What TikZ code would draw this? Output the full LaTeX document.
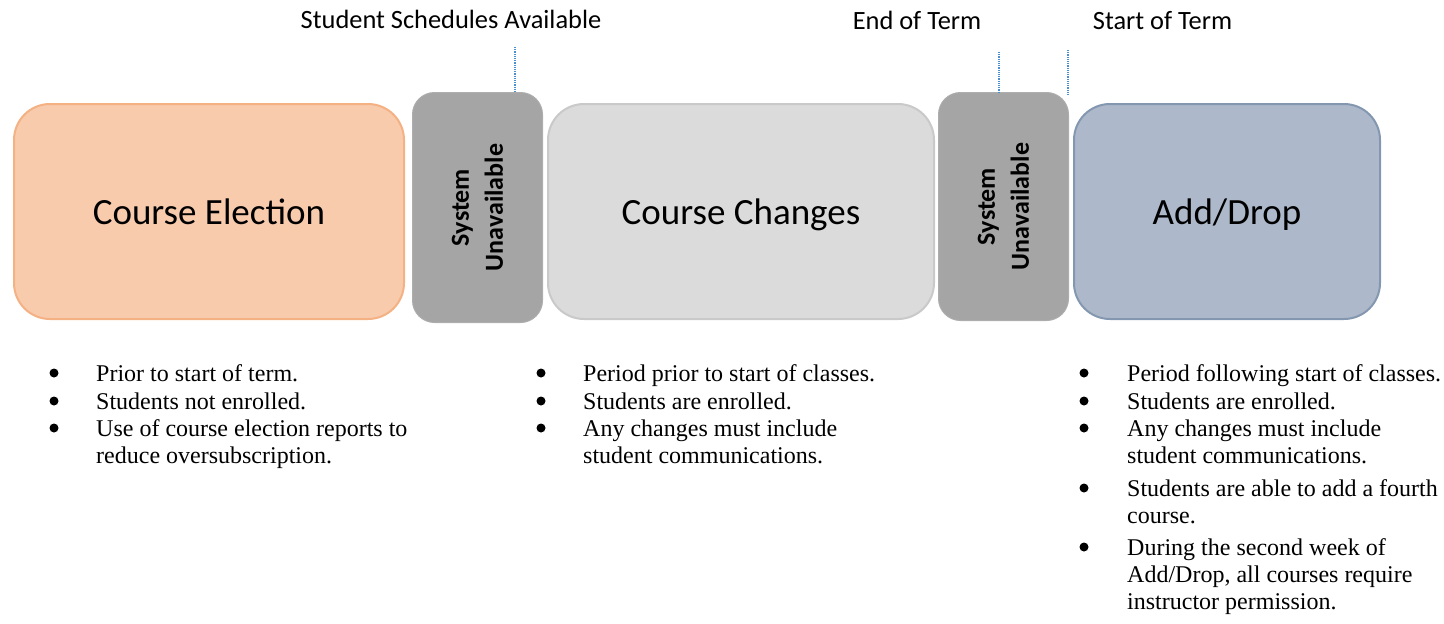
\documentclass[tikz,border=0pt]{standalone}
\usepackage{fontspec}
\setmainfont{Liberation Serif}
\newfontfamily\calfont{Carlito}
\definecolor{peachF}{HTML}{F8CBAD}
\definecolor{peachD}{HTML}{F4B183}
\definecolor{lgrayF}{HTML}{DBDBDB}
\definecolor{lgrayD}{HTML}{C9C9C9}
\definecolor{blueF}{HTML}{ADB9CA}
\definecolor{blueD}{HTML}{8497B0}
\definecolor{sysF}{HTML}{A5A5A5}
\definecolor{sysD}{HTML}{ADADAD}
\definecolor{mark}{HTML}{4A8FD0}
\begin{document}
\begin{tikzpicture}[x=1pt,y=-1pt,
  bigbox/.style={rounded corners=36pt, line width=2pt, inner sep=0pt,
    minimum height=215pt, text height=26pt, text depth=0pt,
    font=\calfont\fontsize{37}{44}\selectfont},
  sysbox/.style={rounded corners=22pt, fill=sysF, draw=sysD, line width=1pt,
    minimum width=130pt, inner sep=0pt},
  systext/.style={rotate=90, align=center, inner sep=0pt,
    font=\calfont\bfseries\fontsize{26}{34}\selectfont},
  toplabel/.style={anchor=base, inner sep=0pt,
    font=\calfont\fontsize{26.4}{31}\selectfont},
  marker/.style={draw=mark, line width=1.1pt, dash pattern=on 1.1pt off 1.1pt},
  bl/.style={anchor=base west, inner sep=0pt, font=\fontsize{24}{27}\selectfont},
  bul/.style={circle, fill=black, inner sep=0pt, minimum size=9pt}
]
\useasboundingbox (0,0) rectangle (1444,624);

% boxes
\node[bigbox, fill=peachF, draw=peachD, minimum width=390pt] (ce) at (209,211.5) {Course Election};
\node[sysbox, minimum height=230pt] (su1) at (477.5,207.5) {};
\node[systext] (st1) at (su1.center) {System\\Unavailable};
\node[bigbox, fill=lgrayF, draw=lgrayD, minimum width=386pt] (cc) at (741,211.5) {Course Changes};
\node[sysbox, minimum height=228pt] (su2) at (1003.5,206.5) {};
\node[systext] (st2) at (su2.center) {System\\Unavailable};
\node[bigbox, fill=blueF, draw=blueD, minimum width=306pt] (ad) at (1227,211.5) {Add/Drop};

% top labels
\node[toplabel] (l1) at (451,28) {Student Schedules Available};
\node[toplabel] (l2) at (917,29) {End of Term};
\node[toplabel] (l3) at (1162.5,29) {Start of Term};

% markers
\coordinate (m1) at (515,47);
\coordinate (m2) at (999,52);
\coordinate (m3a) at (1068,50);
\coordinate (m3b) at (1068,95);
\draw[marker] (m1) -- (m1 |- su1.north);
\draw[marker] (m2) -- (m2 |- su2.north);
\draw[marker] (m3a) -- (m3b);

% column 1
\node[bul] (b11) at (54,373) {};
\node[bl] (t11) at (96,381) {Prior to start of term.};
\node[bul] (b12) at (54,401) {};
\node[bl] (t12) at (96,409) {Students not enrolled.};
\node[bul] (b13) at (54,428) {};
\node[bl] (t13) at (96,436) {Use of course election reports to};
\node[bl] (t13b) at (96,463) {reduce oversubscription.};

% column 2
\node[bul] (b21) at (541,373) {};
\node[bl] (t21) at (583,381) {Period prior to start of classes.};
\node[bul] (b22) at (541,401) {};
\node[bl] (t22) at (583,409) {Students are enrolled.};
\node[bul] (b23) at (541,428) {};
\node[bl] (t23) at (583,436) {Any changes must include};
\node[bl] (t23b) at (583,463) {student communications.};

% column 3
\node[bul] (b31) at (1084,373) {};
\node[bl] (t31) at (1127,381) {Period following start of classes.};
\node[bul] (b32) at (1084,401) {};
\node[bl] (t32) at (1127,409) {Students are enrolled.};
\node[bul] (b33) at (1084,428) {};
\node[bl] (t33) at (1127,436) {Any changes must include};
\node[bl] (t33b) at (1127,463) {student communications.};
\node[bul] (b34) at (1084,488) {};
\node[bl] (t34) at (1127,496) {Students are able to add a fourth};
\node[bl] (t34b) at (1127,523) {course.};
\node[bul] (b35) at (1084,547) {};
\node[bl] (t35) at (1127,555) {During the second week of};
\node[bl] (t35b) at (1127,582) {Add/Drop, all courses require};
\node[bl] (t35c) at (1127,609) {instructor permission.};
\end{tikzpicture}
\end{document}
